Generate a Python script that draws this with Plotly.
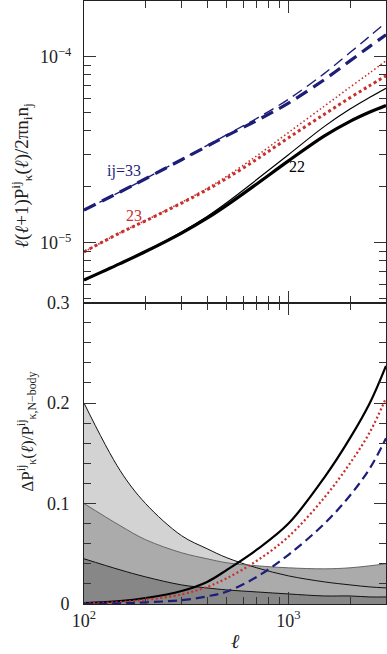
import plotly.graph_objects as go
from plotly.subplots import make_subplots

# multipole grid
ell = [100, 150, 200, 300, 400, 500, 700, 1000, 1500, 2000, 2500, 3000]

# top panel: l(l+1)P/2pi n_i n_j  (thick = N-body, thin = model)
p22_thick = [6.32e-6, 7.74e-6, 8.99e-6, 1.130e-5, 1.358e-5, 1.596e-5, 2.075e-5, 2.76e-5, 3.76e-5, 4.50e-5, 5.05e-5, 5.48e-5]
p22_thin = [6.33e-6, 7.76e-6, 9.04e-6, 1.145e-5, 1.388e-5, 1.65e-5, 2.19e-5, 2.98e-5, 4.23e-5, 5.24e-5, 6.06e-5, 6.78e-5]
p23_thick = [8.95e-6, 1.132e-5, 1.315e-5, 1.637e-5, 1.932e-5, 2.228e-5, 2.818e-5, 3.673e-5, 4.92e-5, 6.03e-5, 7.01e-5, 7.91e-5]
p23_thin = [8.95e-6, 1.134e-5, 1.321e-5, 1.653e-5, 1.965e-5, 2.285e-5, 2.94e-5, 3.92e-5, 5.44e-5, 6.87e-5, 8.21e-5, 9.53e-5]
p33_thick = [1.503e-5, 1.879e-5, 2.213e-5, 2.80e-5, 3.31e-5, 3.77e-5, 4.55e-5, 5.64e-5, 7.55e-5, 9.51e-5, 1.138e-4, 1.315e-4]
p33_thin = [1.503e-5, 1.880e-5, 2.217e-5, 2.81e-5, 3.34e-5, 3.82e-5, 4.67e-5, 5.92e-5, 8.15e-5, 1.054e-4, 1.292e-4, 1.532e-4]

# bottom panel: fractional differences
d22 = [0.001, 0.003, 0.006, 0.013, 0.022, 0.034, 0.054, 0.080, 0.126, 0.165, 0.200, 0.237]
d23 = [0.0005, 0.0019, 0.0042, 0.0095, 0.017, 0.0257, 0.043, 0.067, 0.106, 0.140, 0.171, 0.205]
d33 = [0.0, 0.0007, 0.0017, 0.0038, 0.0076, 0.0124, 0.027, 0.049, 0.080, 0.108, 0.135, 0.165]

# error bands
band_a = [0.200, 0.133, 0.100, 0.068, 0.055, 0.046, 0.036, 0.028, 0.022, 0.019, 0.017, 0.016]
band_b = [0.100, 0.078, 0.064, 0.051, 0.045, 0.041, 0.038, 0.036, 0.035, 0.036, 0.038, 0.040]
band_c = [0.045, 0.034, 0.027, 0.019, 0.016, 0.014, 0.012, 0.010, 0.008, 0.008, 0.007, 0.007]

BLACK = "#000000"
RED = "#c8302e"
BLUE = "#1e1e78"
FONT = "Liberation Serif, Times New Roman, DejaVu Serif, serif"

fig = make_subplots(rows=2, cols=1, shared_xaxes=True, vertical_spacing=0)

def line(x, y, color, width, dash, row):
    fig.add_trace(go.Scatter(x=x, y=y, mode="lines", line=dict(color=color, width=width, dash=dash, shape="spline", smoothing=1.0),
                             showlegend=False, hoverinfo="skip"), row=row, col=1)

# top panel
line(ell, p22_thin, BLACK, 1.2, "solid", 1)
line(ell, p22_thick, BLACK, 3.2, "solid", 1)
line(ell, p23_thin, RED, 1.6, "1.5px,2.5px", 1)
line(ell, p23_thick, RED, 3.0, "3px,3px", 1)
line(ell, p33_thin, BLUE, 1.4, "11px,6px", 1)
line(ell, p33_thick, BLUE, 3.2, "13px,7px", 1)

# bottom panel bands
for band, fc in [(band_a, "#d3d3d3"), (band_b, "#ababab"), (band_c, "#878787")]:
    fig.add_trace(go.Scatter(x=ell, y=band, mode="lines", fill="tozeroy", fillcolor=fc,
                             line=dict(width=0, shape="spline", smoothing=1.0), showlegend=False, hoverinfo="skip"), row=2, col=1)
line(ell, band_a, "#111111", 1.0, "solid", 2)
line(ell, band_b, "#666666", 1.0, "solid", 2)
line(ell, band_c, "#111111", 1.0, "solid", 2)

line(ell, d22, BLACK, 2.2, "solid", 2)
line(ell, d23, RED, 2.2, "2px,2.5px", 2)
line(ell, d33, BLUE, 2.2, "9px,5px", 2)

xminor = [200, 300, 400, 500, 600, 700, 800, 900, 2000, 3000]
xax = dict(type="log", range=[2, 3.4771], showline=True, linecolor="#222", linewidth=1, mirror="ticks",
           ticks="inside", ticklen=12, tickcolor="#333", tickwidth=1, automargin=False,
           tickvals=[100, 1000], ticktext=["10<sup>2</sup>", "10<sup>3</sup>"],
           minor=dict(ticks="inside", ticklen=7, tickcolor="#333", tickvals=xminor),
           showgrid=False, zeroline=False, tickfont=dict(family=FONT, size=18, color="#222"))
fig.update_xaxes(**xax)
fig.update_xaxes(showticklabels=False, row=1, col=1)
fig.update_xaxes(ticklabelstandoff=0, row=2, col=1)

yminor = [m * 10 ** e for e in (-6, -5, -4) for m in range(2, 10)]
fig.update_yaxes(type="log", range=[-5.32, -3.70], showline=True, linecolor="#222", linewidth=1, mirror="ticks",
                 ticks="inside", ticklen=12, tickcolor="#333", automargin=False,
                 tickvals=[1e-5, 1e-4], ticktext=["10<sup>−5</sup>", "10<sup>−4</sup>"],
                 minor=dict(ticks="inside", ticklen=7, tickcolor="#333", tickvals=yminor),
                 showgrid=False, zeroline=False, ticklabelstandoff=8,
                 tickfont=dict(family=FONT, size=18, color="#222"), row=1, col=1)
fig.update_yaxes(range=[0, 0.3], showline=True, linecolor="#222", linewidth=1, mirror="ticks",
                 ticks="inside", ticklen=12, tickcolor="#333", automargin=False,
                 tickvals=[0, 0.1, 0.2, 0.3], ticktext=["0", "0.1", "0.2", "0.3"],
                 minor=dict(ticks="inside", ticklen=7, tickcolor="#333", dtick=0.02),
                 showgrid=False, zeroline=False, ticklabelstandoff=10,
                 tickfont=dict(family=FONT, size=18, color="#222"), row=2, col=1)

anns = [
    dict(text="ij=33", x=2.195, y=-4.613, xref="x", yref="y", showarrow=False, font=dict(family=FONT, size=16, color=BLUE)),
    dict(text="23", x=2.244, y=-4.855, xref="x", yref="y", showarrow=False, font=dict(family=FONT, size=16, color=RED)),
    dict(text="22", x=3.041, y=-4.591, xref="x", yref="y", showarrow=False, font=dict(family=FONT, size=16, color=BLACK)),
    dict(text="<i>ℓ</i>(<i>ℓ</i>+1)P<sup>ij</sup><sub>κ</sub>(<i>ℓ</i>)/2πn<sub>i</sub>n<sub>j</sub>", textangle=-90,
         x=-0.205, y=0.71, xref="paper", yref="paper", xanchor="center", yanchor="middle", showarrow=False,
         font=dict(family=FONT, size=19, color="#222")),
    dict(text="ΔP<sup>ij</sup><sub>κ</sub>(<i>ℓ</i>)/P<sup>ij</sup><sub>κ,N−body</sub>", textangle=-90,
         x=-0.19, y=0.285, xref="paper", yref="paper", xanchor="center", yanchor="middle", showarrow=False,
         font=dict(family=FONT, size=17, color="#222")),
    dict(text="<i>ℓ</i>", x=0.5, y=-0.061, xref="paper", yref="paper", xanchor="center", yanchor="middle",
         showarrow=False, font=dict(family=FONT, size=20, color="#222")),
]
fig.update_layout(width=387, height=654, margin=dict(l=84, r=1, t=1, b=50, autoexpand=False),
                  plot_bgcolor="white", paper_bgcolor="white",
                  annotations=anns, showlegend=False)

fig.write_html("out.html", config={"displayModeBar": False},
               post_script="document.body.style.margin='0';document.body.style.overflow='hidden';")
